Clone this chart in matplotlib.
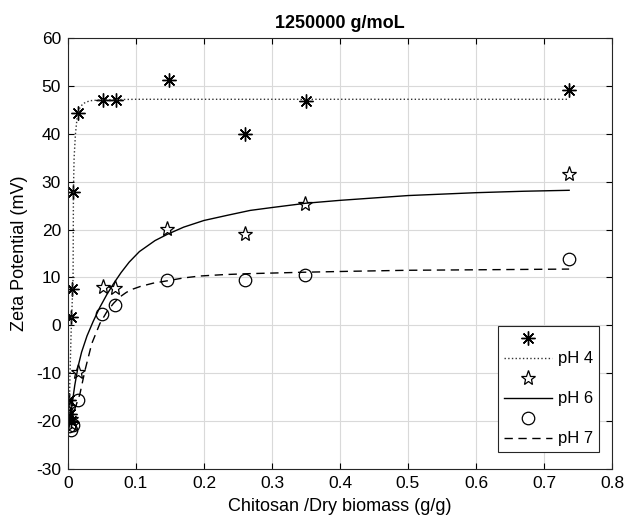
import numpy as np
import matplotlib.pyplot as plt

plt.rcParams['font.family'] = ['Liberation Sans', 'DejaVu Sans']
plt.rcParams['axes.unicode_minus'] = False

# measured points
x_ph4 = [0.001, 0.003, 0.005, 0.0044, 0.0064, 0.0078, 0.015, 0.052, 0.070, 0.149, 0.260, 0.350, 0.737]
y_ph4 = [-15.5, -18.5, -20.0, 1.8, 7.5, 27.8, 44.3, 47.1, 47.1, 51.3, 40.0, 46.9, 49.1]

x_ph6 = [0.002, 0.004, 0.006, 0.015, 0.052, 0.069, 0.146, 0.261, 0.349, 0.737]
y_ph6 = [-17.0, -19.5, -20.5, -9.7, 8.0, 7.7, 20.2, 19.1, 25.3, 31.5]

x_ph7 = [0.002, 0.005, 0.008, 0.0152, 0.0505, 0.069, 0.146, 0.261, 0.349, 0.737]
y_ph7 = [-21.0, -21.8, -20.8, -15.5, 2.4, 4.3, 9.4, 9.4, 10.6, 13.9]

# fitted curves
xf_ph4 = [0.0015, 0.003, 0.0045, 0.006, 0.0075, 0.0078, 0.008, 0.009, 0.011, 0.0135,
          0.017, 0.022, 0.032, 0.05, 0.1, 0.737]
yf_ph4 = [-20.0, -10.0, -2.0, 4.0, 10.0, 20.0, 28.0, 35.0, 40.0, 43.5,
          45.3, 46.3, 46.9, 47.1, 47.2, 47.2]

xf_ph6 = [0.003, 0.006, 0.01, 0.015, 0.02, 0.028, 0.037, 0.047, 0.057, 0.067, 0.078,
          0.09, 0.105, 0.128, 0.146, 0.17, 0.2, 0.235, 0.268, 0.3, 0.35, 0.4,
          0.45, 0.5, 0.55, 0.6, 0.67, 0.737]
yf_ph6 = [-20.5, -16.5, -12.5, -8.5, -5.6, -2.2, 0.8, 3.8, 6.4, 8.7, 11.0,
          13.2, 15.4, 17.7, 19.0, 20.5, 21.9, 23.0, 24.0, 24.6, 25.5, 26.1,
          26.6, 27.1, 27.4, 27.7, 28.0, 28.2]

xf_ph7 = [0.005, 0.01, 0.0176, 0.025, 0.035, 0.047, 0.057, 0.067, 0.076, 0.086,
          0.096, 0.106, 0.125, 0.146, 0.17, 0.194, 0.23, 0.268, 0.35, 0.42, 0.5,
          0.6, 0.737]
yf_ph7 = [-20.5, -17.5, -14.3, -9.4, -3.8, 0.4, 2.8, 4.6, 5.9, 6.9,
          7.6, 8.1, 8.8, 9.3, 9.9, 10.3, 10.6, 10.8, 11.1, 11.3, 11.5,
          11.6, 11.75]

fig = plt.figure(figsize=(6.26, 5.17), dpi=100)
ax = fig.add_axes([0.1086, 0.0928, 0.869, 0.8337])

asterisk = (8, 2, 0)
p4, = ax.plot(x_ph4, y_ph4, ls='none', marker=asterisk, ms=10, mec='black', mew=1.0)
l4, = ax.plot(xf_ph4, yf_ph4, ':', color='#333333', lw=1.0)
p6, = ax.plot(x_ph6, y_ph6, ls='none', marker='*', ms=11, mfc='none', mec='black', mew=0.9)
l6, = ax.plot(xf_ph6, yf_ph6, '-', color='black', lw=1.0)
p7, = ax.plot(x_ph7, y_ph7, ls='none', marker='o', ms=9, mfc='none', mec='black', mew=0.9)
l7, = ax.plot(xf_ph7, yf_ph7, color='black', lw=1.0, dashes=(6, 4))

ax.set_xlim(0, 0.8)
ax.set_ylim(-30, 60)
ax.set_xticks(np.arange(0, 0.81, 0.1))
ax.set_xticklabels(['0', '0.1', '0.2', '0.3', '0.4', '0.5', '0.6', '0.7', '0.8'])
ax.set_yticks(np.arange(-30, 61, 10))
ax.grid(True, color='#d9d9d9', lw=0.8)
ax.set_axisbelow(True)
ax.tick_params(direction='in', top=True, right=True, labelsize=12.5, length=4, width=0.8, pad=5)
for s in ax.spines.values():
    s.set_color('#262626')
    s.set_linewidth(0.8)

ax.set_title('1250000 g/moL', fontsize=13, fontweight='bold', pad=7)
ax.set_xlabel('Chitosan /Dry biomass (g/g)', fontsize=13, labelpad=5)
ax.set_ylabel('Zeta Potential (mV)', fontsize=13, labelpad=6)

leg = ax.legend([p4, l4, p6, l6, p7, l7], ['', 'pH 4', '', 'pH 6', '', 'pH 7'],
                loc='lower right', bbox_to_anchor=(0.976, 0.039), borderaxespad=0,
                fontsize=12, handlelength=2.9, labelspacing=0.3, fancybox=False,
                framealpha=1, edgecolor='#262626', handletextpad=0.35, borderpad=0.35)
leg.get_frame().set_linewidth(0.8)

fig.savefig('out.png', dpi=100)
